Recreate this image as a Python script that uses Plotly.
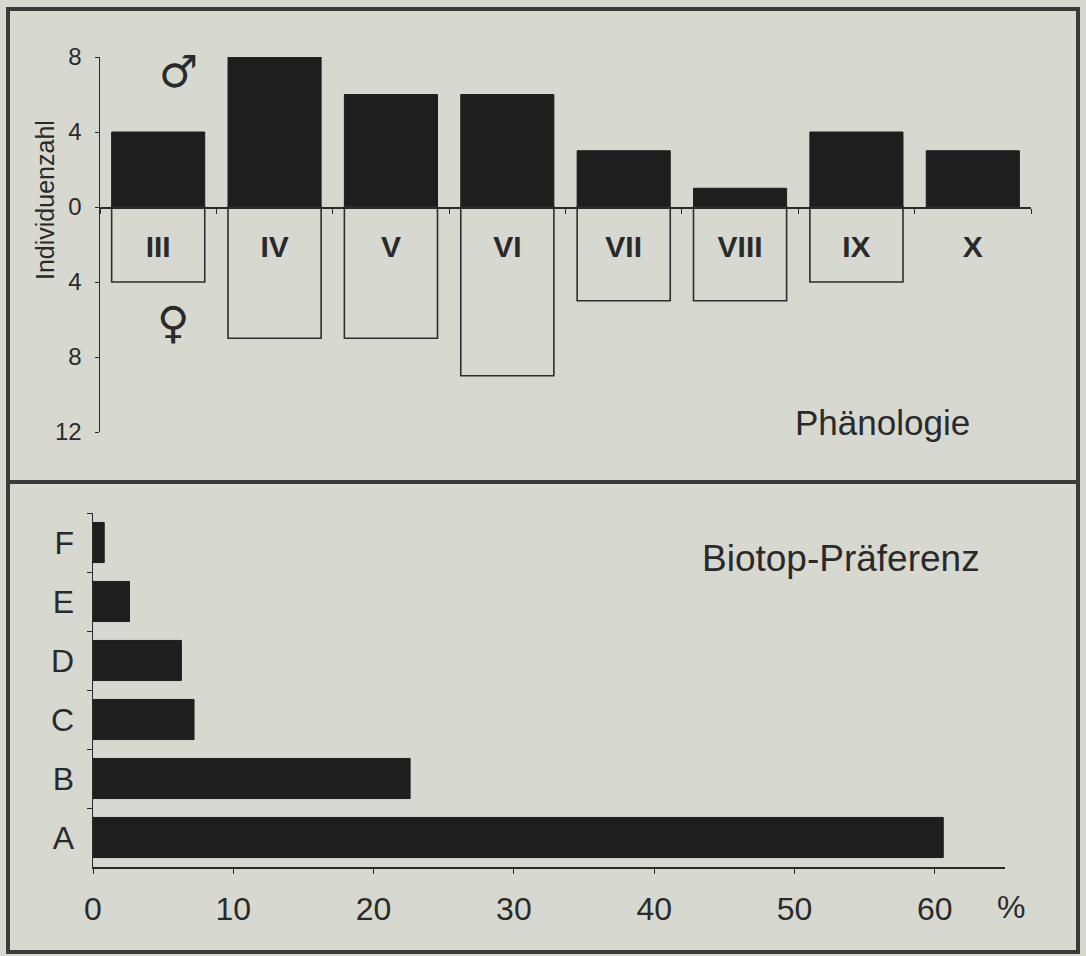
import plotly.graph_objects as go

# ---- data ----
months = ["III", "IV", "V", "VI", "VII", "VIII", "IX", "X"]
males = [4, 8, 6, 6, 3, 1, 4, 3]
females = [4, 7, 7, 9, 5, 5, 4, 0]

biotopes = ["A", "B", "C", "D", "E", "F"]
biotope_pct = [60.6, 22.6, 7.2, 6.3, 2.6, 0.8]

top_yticks = [-12, -8, -4, 0, 4, 8]
top_yticktext = ["12", "8", "4", "0", "4", "8"]
bottom_xticks = [0, 10, 20, 30, 40, 50, 60]

# ---- style ----
W, H = 1086, 956
BG = "#d7d9d1"
INK = "#1e1e1e"
FRAME = "#3a3a3a"
TXT = "#2a2a2a"
FONT = "Liberation Sans, Arial, sans-serif"


def px_x(p):
    return p / W


def px_y(p):
    return 1 - p / H


top_xdom = [px_x(100), px_x(1031)]
top_ydom = [px_y(432), px_y(57)]
top_yrange = [-12, 8]
bot_xdom = [px_x(93), px_x(1005)]
bot_ydom = [px_y(867), px_y(513)]

zero_pos = top_ydom[0] + (0 - top_yrange[0]) / (top_yrange[1] - top_yrange[0]) * (top_ydom[1] - top_ydom[0])

fig = go.Figure()

# males (filled, upward)
fig.add_trace(go.Bar(
    x=months, y=males, width=0.8,
    marker=dict(color=INK, line=dict(color=INK, width=1)),
    xaxis="x", yaxis="y", showlegend=False,
))
# females (outlined, downward)
fig.add_trace(go.Bar(
    x=months, y=[-v for v in females], width=0.8,
    marker=dict(color="rgba(0,0,0,0)", line=dict(color="#2e2e2e", width=1.6)),
    xaxis="x", yaxis="y", showlegend=False,
))
# biotope preference
fig.add_trace(go.Bar(
    y=biotopes, x=biotope_pct, orientation="h", width=0.68,
    marker=dict(color=INK, line=dict(color=INK, width=1)),
    xaxis="x2", yaxis="y2", showlegend=False,
))

fig.update_layout(
    width=W, height=H, autosize=False,
    margin=dict(l=0, r=0, t=0, b=0, pad=0, autoexpand=False),
    paper_bgcolor=BG, plot_bgcolor="rgba(0,0,0,0)",
    font=dict(family=FONT, color=TXT),
    barmode="overlay",
    xaxis=dict(
        domain=top_xdom, anchor="free", position=zero_pos,
        type="category", categoryorder="array", categoryarray=months,
        range=[-0.5, 7.5],
        showline=True, linecolor=TXT, linewidth=1.5,
        ticks="outside", tickson="boundaries", ticklen=5, tickcolor=TXT,
        ticklabelstandoff=12,
        tickfont=dict(size=30, family=FONT, weight="bold", color=TXT),
        showgrid=False, zeroline=False, fixedrange=True,
    ),
    yaxis=dict(
        domain=top_ydom, anchor="x", range=top_yrange,
        tickvals=top_yticks, ticktext=top_yticktext,
        showline=True, linecolor=TXT, linewidth=1.5,
        ticks="outside", ticklen=4, tickcolor=TXT,
        ticklabelstandoff=8,
        tickfont=dict(size=24, family=FONT, color=TXT),
        showgrid=False, zeroline=False, fixedrange=True,
    ),
    xaxis2=dict(
        domain=bot_xdom, anchor="y2", range=[0, 65],
        tickvals=bottom_xticks,
        showline=True, linecolor=TXT, linewidth=1.5,
        ticks="outside", ticklen=5, tickcolor=TXT,
        ticklabelstandoff=8,
        tickfont=dict(size=32, family=FONT, color=TXT),
        showgrid=False, zeroline=False, fixedrange=True,
    ),
    yaxis2=dict(
        domain=bot_ydom, anchor="x2",
        type="category", categoryorder="array", categoryarray=biotopes,
        range=[-0.5, 5.5],
        showline=True, linecolor=TXT, linewidth=1.5,
        ticks="outside", tickson="boundaries", ticklen=5, tickcolor=TXT,
        ticklabelstandoff=11,
        tickfont=dict(size=32, family=FONT, color=TXT),
        showgrid=False, zeroline=False, fixedrange=True,
    ),
)

# frames of the two panels
fig.add_shape(type="rect", xref="paper", yref="paper",
              x0=px_x(8), x1=px_x(1078), y0=px_y(482), y1=px_y(9),
              line=dict(color=FRAME, width=4))
fig.add_shape(type="rect", xref="paper", yref="paper",
              x0=px_x(8), x1=px_x(1078), y0=px_y(952), y1=px_y(482),
              line=dict(color=FRAME, width=4))

ann = [
    dict(text="♂", x=px_x(178), y=px_y(72), size=44, family="DejaVu Sans"),
    dict(text="♀", x=px_x(173), y=px_y(323), size=44, family="DejaVu Sans"),
    dict(text="Phänologie", x=px_x(882), y=px_y(423), size=35, family=FONT),
    dict(text="Biotop-Präferenz", x=px_x(841), y=px_y(558), size=37, family=FONT),
    dict(text="%", x=px_x(1011), y=px_y(907), size=32, family=FONT),
]
for a in ann:
    fig.add_annotation(
        text=a["text"], x=a["x"], y=a["y"], xref="paper", yref="paper",
        xanchor="center", yanchor="middle", showarrow=False,
        font=dict(size=a["size"], family=a["family"], color=TXT),
    )
fig.add_annotation(
    text="Individuenzahl", x=px_x(45), y=px_y(200), xref="paper", yref="paper",
    xanchor="center", yanchor="middle", showarrow=False, textangle=-90,
    font=dict(size=25, family=FONT, color=TXT),
)

fig.write_html(
    "out.html",
    config={"displayModeBar": False, "staticPlot": True},
    post_script="document.body.style.margin='0';document.body.style.background='" + BG + "';",
)
